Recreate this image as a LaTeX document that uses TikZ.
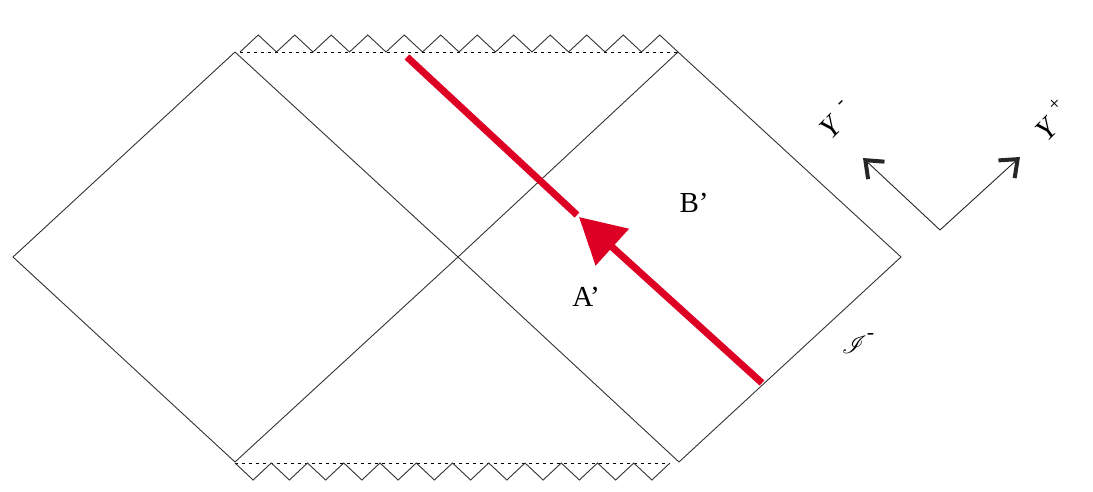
\documentclass[tikz,border=0pt]{standalone}
\usepackage{fontspec}
\usepackage{mathrsfs}
\setmainfont{Liberation Serif}
\usetikzlibrary{arrows.meta}
\definecolor{wred}{RGB}{222,0,36}
\tikzset{
  frame/.style={line width=0.9pt, black!80},
  sing/.style={line width=0.7pt, black, dash pattern=on 2.5pt off 4.5pt},
  zig/.style={line width=0.9pt, black!80, line join=miter},
  world/.style={line width=7pt, wred},
  axis/.style={line width=0.9pt, black!85},
  lbl/.style={inner sep=0pt, font=\fontsize{29}{32}\selectfont},
  ylbl/.style={inner sep=0pt, rotate=45, font=\fontsize{30}{34}\selectfont\itshape},
  ysup/.style={inner sep=0pt, rotate=45, font=\fontsize{20}{22}\selectfont}
}
\begin{document}
\begin{tikzpicture}[x=1pt,y=-1pt]
\useasboundingbox (0,0) rectangle (1093,492);
% vertices
\coordinate (L) at (13,257);
\coordinate (T1) at (235,52);
\coordinate (B1) at (235,462);
\coordinate (C) at (458,257);
\coordinate (T2) at (678,52);
\coordinate (B2) at (679,462);
\coordinate (R) at (901,257);
% diagram edges
\draw[frame] (T1) -- (L) -- (B1);
\draw[frame] (T1) -- (C) -- (B2);
\draw[frame] (B1) -- (C) -- (T2);
\draw[frame] (T2) -- (R) -- (B2);
% singularities
\coordinate (ST0) at (240,52);
\coordinate (ST1) at (678,52);
\coordinate (SB0) at (235,463);
\coordinate (SB1) at (670,463);
\draw[sing] (ST0) -- (ST1);
\draw[sing] (SB0) -- (SB1);
\draw[zig] (ST0) \foreach \i in {0,...,11} { -- ({240+36.5*\i+18.25},35) -- ({240+36.5*(\i+1)},52) };
\draw[zig] (SB0) \foreach \i in {0,...,11} { -- ({235+36.25*\i+18.125},480) -- ({235+36.25*(\i+1)},463) };
% worldline
\coordinate (W0) at (762,383);
\coordinate (Wm) at (579,217);
\coordinate (Wg) at (577,215);
\coordinate (W1) at (407,57);
\draw[world, -{Triangle[length=45pt,width=48pt]}] (W0) -- (Wm);
\draw[world] (Wg) -- (W1);
% labels
\node[lbl] (A) at (586,297) {A’};
\node[lbl] (B) at (694,203) {B’};
\node[inner sep=0pt, font=\fontsize{44}{48}\selectfont] (scri) at (858,343) {$\mathscr{I}$\raisebox{14pt}{\fontsize{22}{24}\selectfont -}};
% axes
\coordinate (O) at (940,230);
\coordinate (Ym) at (863,158);
\coordinate (Yp) at (1020,157);
\draw[axis, -{Straight Barb[length=15pt,width=24pt,line width=4pt]}] (O) -- (Ym);
\draw[axis, -{Straight Barb[length=15pt,width=24pt,line width=4pt]}] (O) -- (Yp);
\node[ylbl] (ym) at (830,128) {Y};
\node[ysup] (ymsup) at (842,104) {-};
\node[ylbl] (yp) at (1046,130) {Y};
\node[ysup] (ypsup) at (1055,105) {+};
\end{tikzpicture}
\end{document}
